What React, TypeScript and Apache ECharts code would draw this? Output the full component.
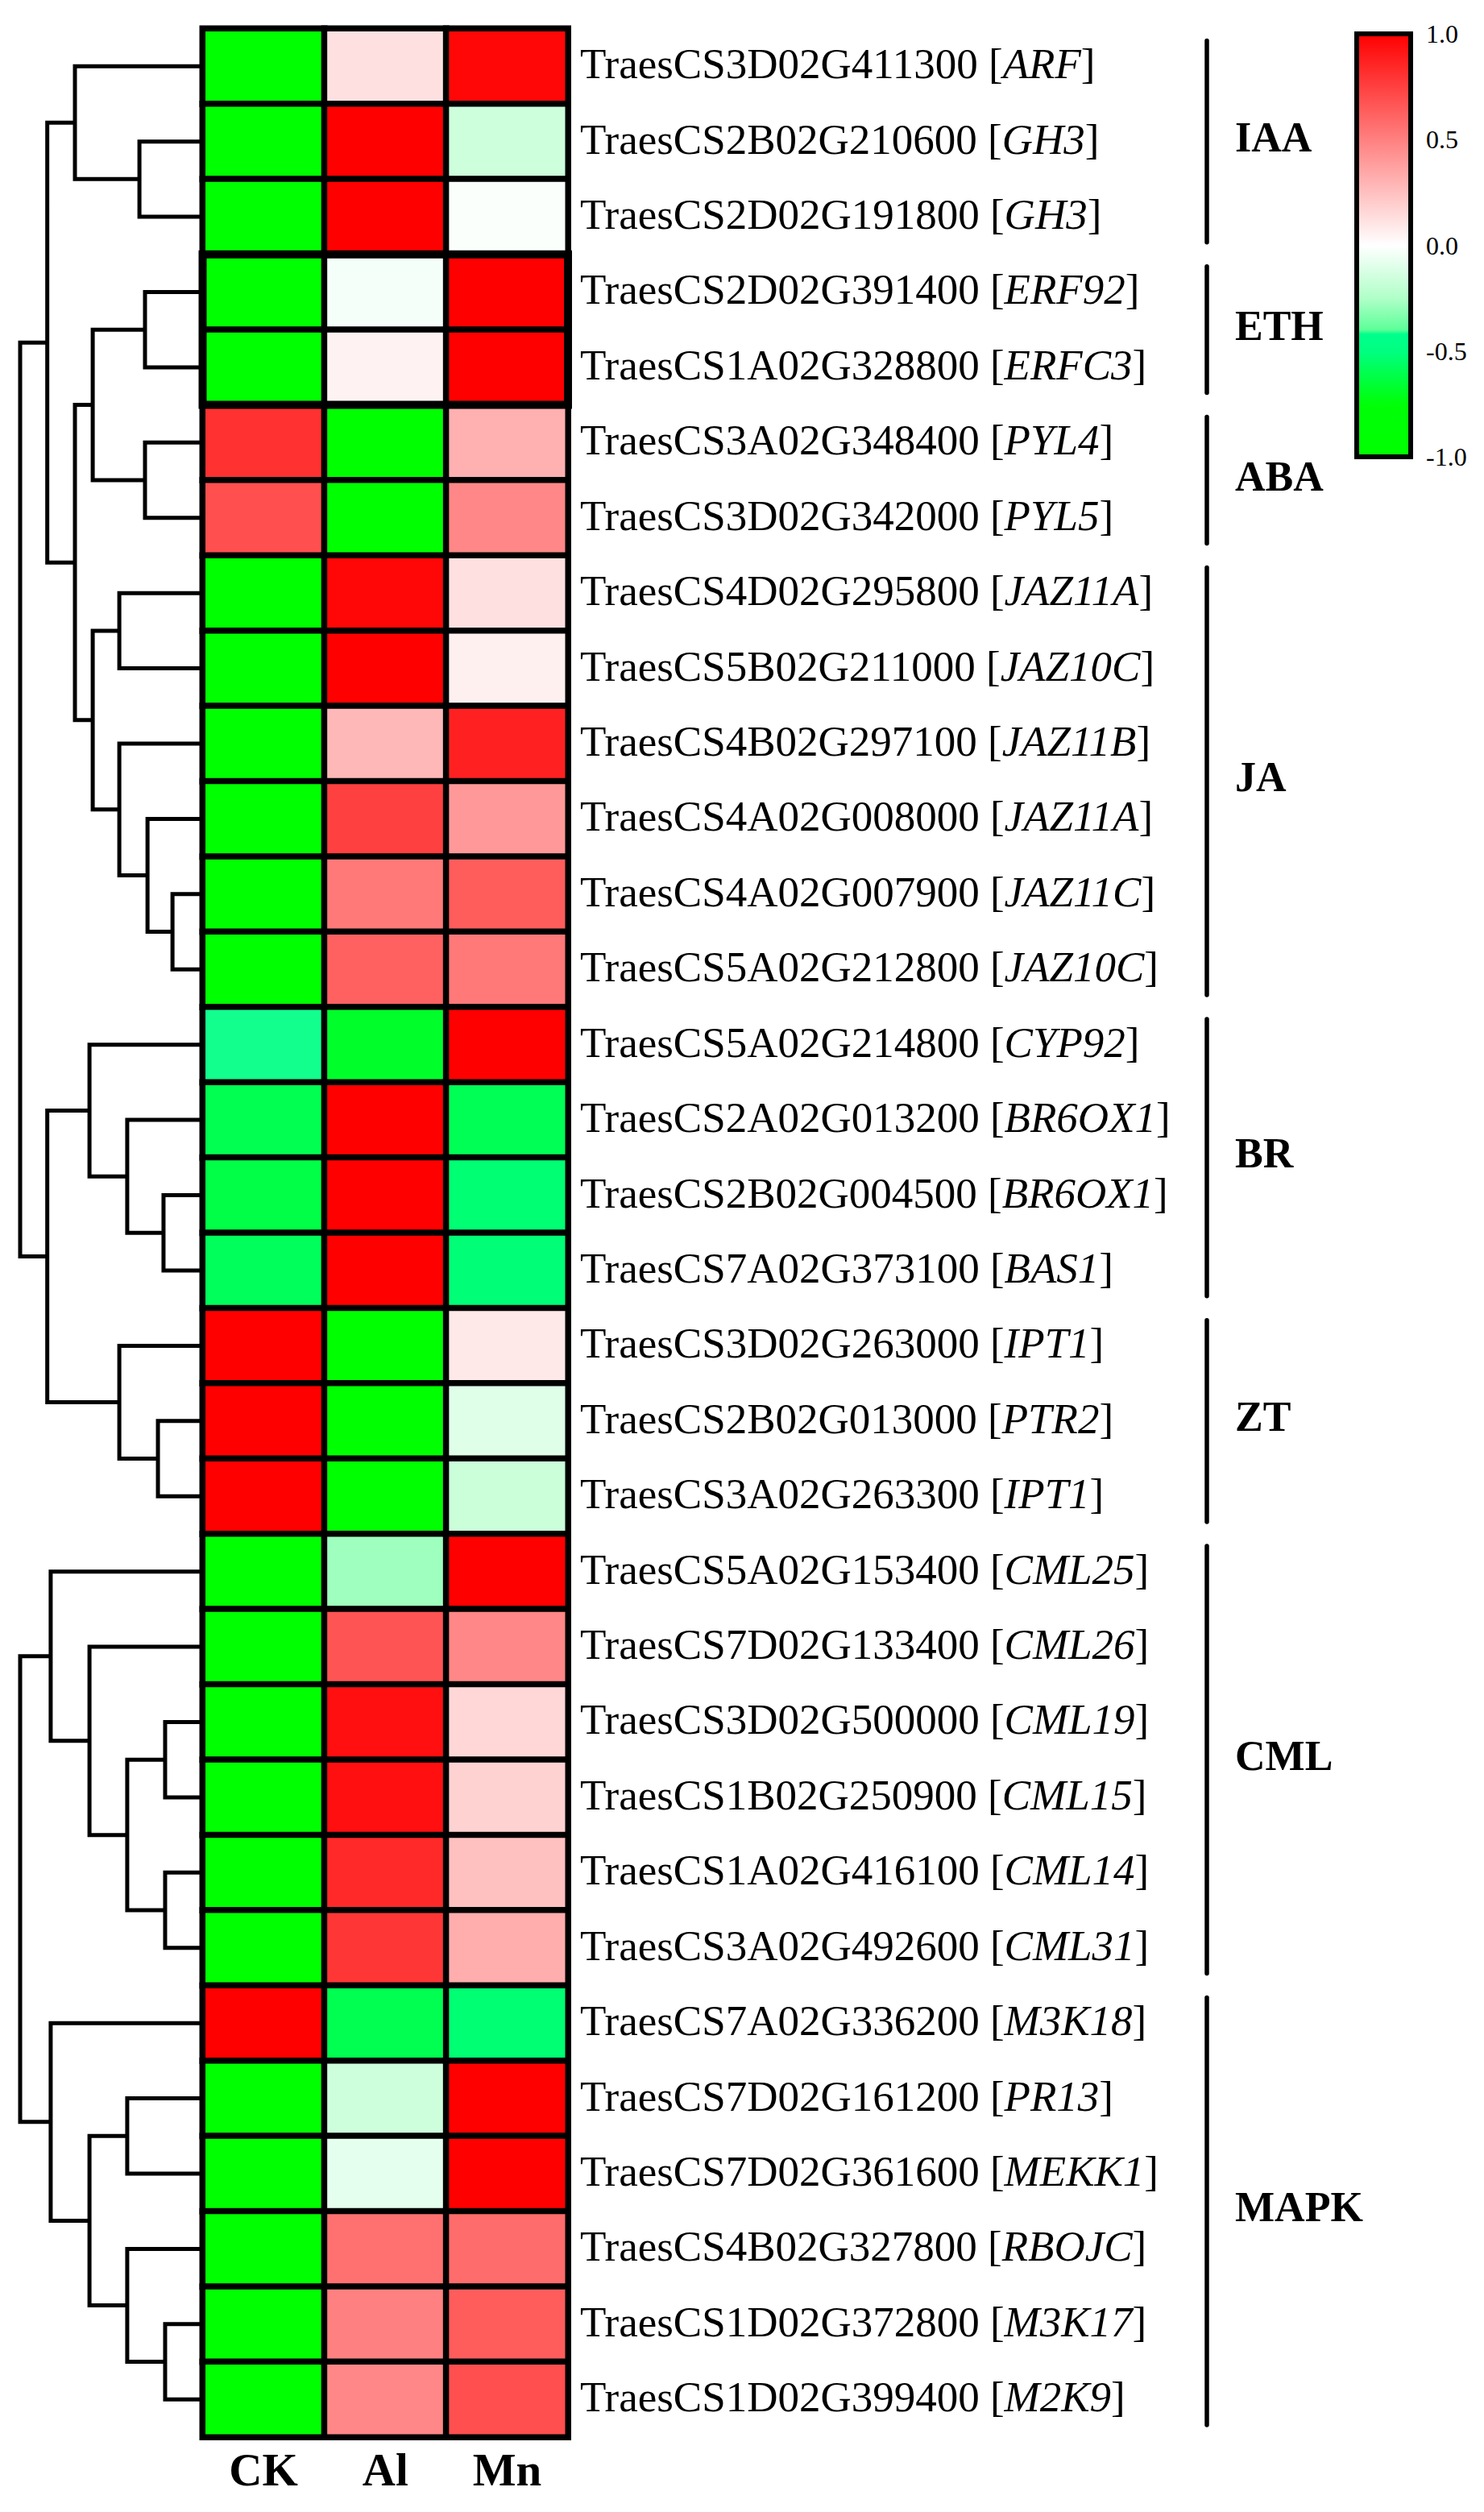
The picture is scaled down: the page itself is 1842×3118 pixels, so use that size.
import React, { useEffect, useRef } from 'react';
import * as echarts from 'echarts';

// ---------------- data ----------------
const columns = ['CK', 'Al', 'Mn'];

const geneIds = [
  'TraesCS3D02G411300', 'TraesCS2B02G210600', 'TraesCS2D02G191800', 'TraesCS2D02G391400',
  'TraesCS1A02G328800', 'TraesCS3A02G348400', 'TraesCS3D02G342000', 'TraesCS4D02G295800',
  'TraesCS5B02G211000', 'TraesCS4B02G297100', 'TraesCS4A02G008000', 'TraesCS4A02G007900',
  'TraesCS5A02G212800', 'TraesCS5A02G214800', 'TraesCS2A02G013200', 'TraesCS2B02G004500',
  'TraesCS7A02G373100', 'TraesCS3D02G263000', 'TraesCS2B02G013000', 'TraesCS3A02G263300',
  'TraesCS5A02G153400', 'TraesCS7D02G133400', 'TraesCS3D02G500000', 'TraesCS1B02G250900',
  'TraesCS1A02G416100', 'TraesCS3A02G492600', 'TraesCS7A02G336200', 'TraesCS7D02G161200',
  'TraesCS7D02G361600', 'TraesCS4B02G327800', 'TraesCS1D02G372800', 'TraesCS1D02G399400',
];

const geneNames = [
  'ARF', 'GH3', 'GH3', 'ERF92', 'ERFC3', 'PYL4', 'PYL5', 'JAZ11A', 'JAZ10C', 'JAZ11B',
  'JAZ11A', 'JAZ11C', 'JAZ10C', 'CYP92', 'BR6OX1', 'BR6OX1', 'BAS1', 'IPT1', 'PTR2', 'IPT1',
  'CML25', 'CML26', 'CML19', 'CML15', 'CML14', 'CML31', 'M3K18', 'PR13', 'MEKK1', 'RBOJC',
  'M3K17', 'M2K9',
];

const ckValues = [
  -1, -1, -1, -1, -1, 0.81, 0.69, -1, -1, -1, -1, -1, -1, -0.42, -0.6, -0.62,
  -0.58, 1, 1, 1, -1, -1, -1, -1, -1, -1, 1, -1, -1, -1, -1, -1,
];
const alValues = [
  0.12, 1, 1, -0.03, 0.05, -1, -1, 0.97, 1, 0.28, 0.75, 0.53, 0.62, -0.68, 1, 1,
  1, -1, -1, -1, -0.28, 0.67, 0.94, 0.94, 0.84, 0.79, -0.6, -0.16, -0.08, 0.56, 0.5, 0.47,
];
const mnValues = [
  0.97, -0.16, -0.016, 1, 1, 0.31, 0.47, 0.12, 0.06, 0.87, 0.4, 0.64, 0.53, 1, -0.59, -0.53,
  -0.52, 0.09, -0.1, -0.17, 1, 0.47, 0.16, 0.18, 0.25, 0.32, -0.53, 1, 1, 0.58, 0.64, 0.69,
];

// hormone groups: [label, first row, last row]
const groups: [string, number, number][] = [
  ['IAA', 0, 2], ['ETH', 3, 4], ['ABA', 5, 6], ['JA', 7, 12],
  ['BR', 13, 16], ['ZT', 17, 19], ['CML', 20, 25], ['MAPK', 26, 31],
];

// dendrogram merges: [childA, childB, height]; number = leaf row, 'mK' = merge K
const dendroMerges: [number | string, number | string, number][] = [
  [1, 2, 0.336], [0, 'm0', 0.695], [3, 4, 0.305], [5, 6, 0.305], ['m2', 'm3', 0.596],
  [7, 8, 0.448], [11, 12, 0.152], [10, 'm6', 0.291], [9, 'm7', 0.448], ['m5', 'm8', 0.596],
  ['m4', 'm9', 0.695], ['m1', 'm10', 0.849], [15, 16, 0.202], [14, 'm12', 0.404],
  [13, 'm13', 0.614], [18, 19, 0.233], [17, 'm15', 0.448], ['m14', 'm16', 0.849],
  ['m11', 'm17', 1.0],
  [22, 23, 0.193], [24, 25, 0.193], ['m19', 'm20', 0.404], [21, 'm21', 0.614],
  [20, 'm22', 0.83], [27, 28, 0.404], [30, 31, 0.193], [29, 'm25', 0.404],
  ['m24', 'm26', 0.614], [26, 'm27', 0.83], ['m23', 'm28', 1.0],
];

// colour scale anchors
const colorAnchors: [number, string][] = [
  [-1.0, '#00FF00'], [-0.75, '#00FF08'], [-0.5, '#00FF80'], [-0.42, '#00FF8C'],
  [-0.4, '#5CFF98'], [-0.25, '#B0FFC8'], [0, '#FFFFFF'], [0.5, '#FF8080'], [1.0, '#FF0000'],
];

// ---------------- helpers ----------------
const FONT = "'Times New Roman', 'Liberation Serif', serif";

function hexToRgb(h: string) {
  const n = parseInt(h.slice(1), 16);
  return [(n >> 16) & 255, (n >> 8) & 255, n & 255];
}
function colorAt(v: number) {
  for (let k = 0; k < colorAnchors.length - 1; k++) {
    const [v0, c0] = colorAnchors[k];
    const [v1, c1] = colorAnchors[k + 1];
    if (v >= v0 && v <= v1) {
      const t = (v - v0) / (v1 - v0);
      const a = hexToRgb(c0), b = hexToRgb(c1);
      const r = a.map((x, i) => Math.round(x + (b[i] - x) * t));
      return `rgb(${r[0]},${r[1]},${r[2]})`;
    }
  }
  return colorAnchors[colorAnchors.length - 1][1];
}

const HM = { left: 251.5, top: 35.5, width: 453.5, height: 2989.5 };
const DG = { left: 25, top: 35.5, width: 223, height: 2989.5 };
const CB = { left: 1684, top: 42, width: 67, height: 525 };

export default function App() {
  const ref = useRef<HTMLDivElement>(null);

  useEffect(() => {
    document.body.style.margin = '0';
    const chart = echarts.init(ref.current!, null, { renderer: 'svg' });

    const heatData: number[][] = [];
    const cols = [ckValues, alValues, mnValues];
    cols.forEach((arr, c) => arr.forEach((v, r) => heatData.push([c, r, v])));

    const scaleColors: string[] = [];
    for (let k = 0; k <= 80; k++) scaleColors.push(colorAt(-1 + k * 0.025));

    // dendrogram polylines
    const pos: { h: number; y: number }[] = [];
    const resolve = (r: number | string) =>
      typeof r === 'number' ? { h: 0, y: r } : pos[parseInt(r.slice(1), 10)];
    const dendroLines = dendroMerges.map(([a, b, h]) => {
      const pa = resolve(a), pb = resolve(b);
      pos.push({ h, y: (pa.y + pb.y) / 2 });
      return { coords: [[pa.h, pa.y], [h, pa.y], [h, pb.y], [pb.h, pb.y]] };
    });

    chart.setOption({
      animation: false,
      grid: [
        { left: HM.left, top: HM.top, width: HM.width, height: HM.height },
        { left: DG.left, top: DG.top, width: DG.width, height: DG.height },
        { left: CB.left, top: CB.top, width: CB.width, height: CB.height },
      ],
      xAxis: [
        {
          type: 'category', gridIndex: 0, data: columns, position: 'bottom',
          axisLine: { show: false }, axisTick: { show: false }, splitLine: { show: false },
          axisLabel: { fontFamily: FONT, fontWeight: 'bold', fontSize: 57, color: '#000', margin: 12 },
        },
        { type: 'value', gridIndex: 1, min: 0, max: 1, inverse: true, show: false },
        { type: 'value', gridIndex: 2, min: 0, max: 1, show: false },
      ],
      yAxis: [
        {
          type: 'category', gridIndex: 0, data: geneIds, inverse: true, position: 'right',
          axisLine: { show: false }, axisTick: { show: false }, splitLine: { show: false },
          axisLabel: {
            interval: 0, margin: 15, padding: [0, 0, 6, 0],
            formatter: (v: string, i: number) => `{n|${v} [}{i|${geneNames[i]}}{n|]}`,
            rich: {
              n: { fontFamily: FONT, fontSize: 53, color: '#000' },
              i: { fontFamily: FONT, fontSize: 53, fontStyle: 'italic', color: '#000' },
            },
          },
        },
        { type: 'value', gridIndex: 1, min: -0.5, max: 31.5, inverse: true, show: false },
        {
          type: 'value', gridIndex: 2, min: -1, max: 1, interval: 0.5, position: 'right',
          axisLine: { show: false }, splitLine: { show: false },
          axisTick: { show: true, length: 10, lineStyle: { color: '#000', width: 5 } },
          axisLabel: {
            margin: 19, fontFamily: FONT, fontSize: 32, color: '#000',
            showMinLabel: true, showMaxLabel: true,
            formatter: (v: number) => v.toFixed(1),
          },
        },
      ],
      visualMap: [{
        type: 'continuous', min: -1, max: 1, dimension: 2, seriesIndex: 0, show: false,
        inRange: { color: scaleColors },
      }],
      series: [
        {
          type: 'heatmap', xAxisIndex: 0, yAxisIndex: 0, data: heatData, silent: true,
          itemStyle: { borderColor: '#000', borderWidth: 7.5 },
          emphasis: { disabled: true },
        },
        {
          type: 'lines', coordinateSystem: 'cartesian2d', xAxisIndex: 1, yAxisIndex: 1,
          polyline: true, silent: true, data: dendroLines,
          lineStyle: { color: '#000', width: 5, opacity: 1, cap: 'butt', join: 'miter' },
        },
      ],
    });

    const yPix = (v: number) => chart.convertToPixel({ yAxisIndex: 1 }, v) as number;
    const cbY = (v: number) => chart.convertToPixel({ yAxisIndex: 2 }, v) as number;

    const stops = colorAnchors
      .map(([v, c]) => ({ offset: (1 - v) / 2, color: c }))
      .sort((a, b) => a.offset - b.offset);

    const graphics: any[] = [
      {
        type: 'rect', z: 50,
        shape: { x: CB.left, y: cbY(1), width: CB.width, height: cbY(-1) - cbY(1) },
        style: {
          fill: { type: 'linear', x: 0, y: 0, x2: 0, y2: 1, colorStops: stops },
          stroke: '#000', lineWidth: 6,
        },
      },
      {
        type: 'rect', z: 100,
        shape: { x: HM.left, y: yPix(2.5), width: HM.width, height: yPix(4.5) - yPix(2.5) },
        style: { fill: 'rgba(0,0,0,0)', stroke: '#000', lineWidth: 10 },
      },
    ];
    groups.forEach(([name, s, e]) => {
      const y1 = yPix(s - 0.5), y2 = yPix(e + 0.5);
      graphics.push({
        type: 'line', z: 50,
        shape: { x1: 1498, y1: y1 + 15, x2: 1498, y2: y2 - 15 },
        style: { stroke: '#000', lineWidth: 5.5, lineCap: 'round' },
      });
      graphics.push({
        type: 'text', z: 50, x: 1533, y: (y1 + y2) / 2 - 5,
        style: {
          text: name, fill: '#000', fontFamily: FONT, fontWeight: 'bold', fontSize: 52,
          align: 'left', verticalAlign: 'middle',
        },
      });
    });
    chart.setOption({ graphic: graphics });

    return () => chart.dispose();
  }, []);

  return <div ref={ref} style={{ width: 1842, height: 3118 }} />;
}
